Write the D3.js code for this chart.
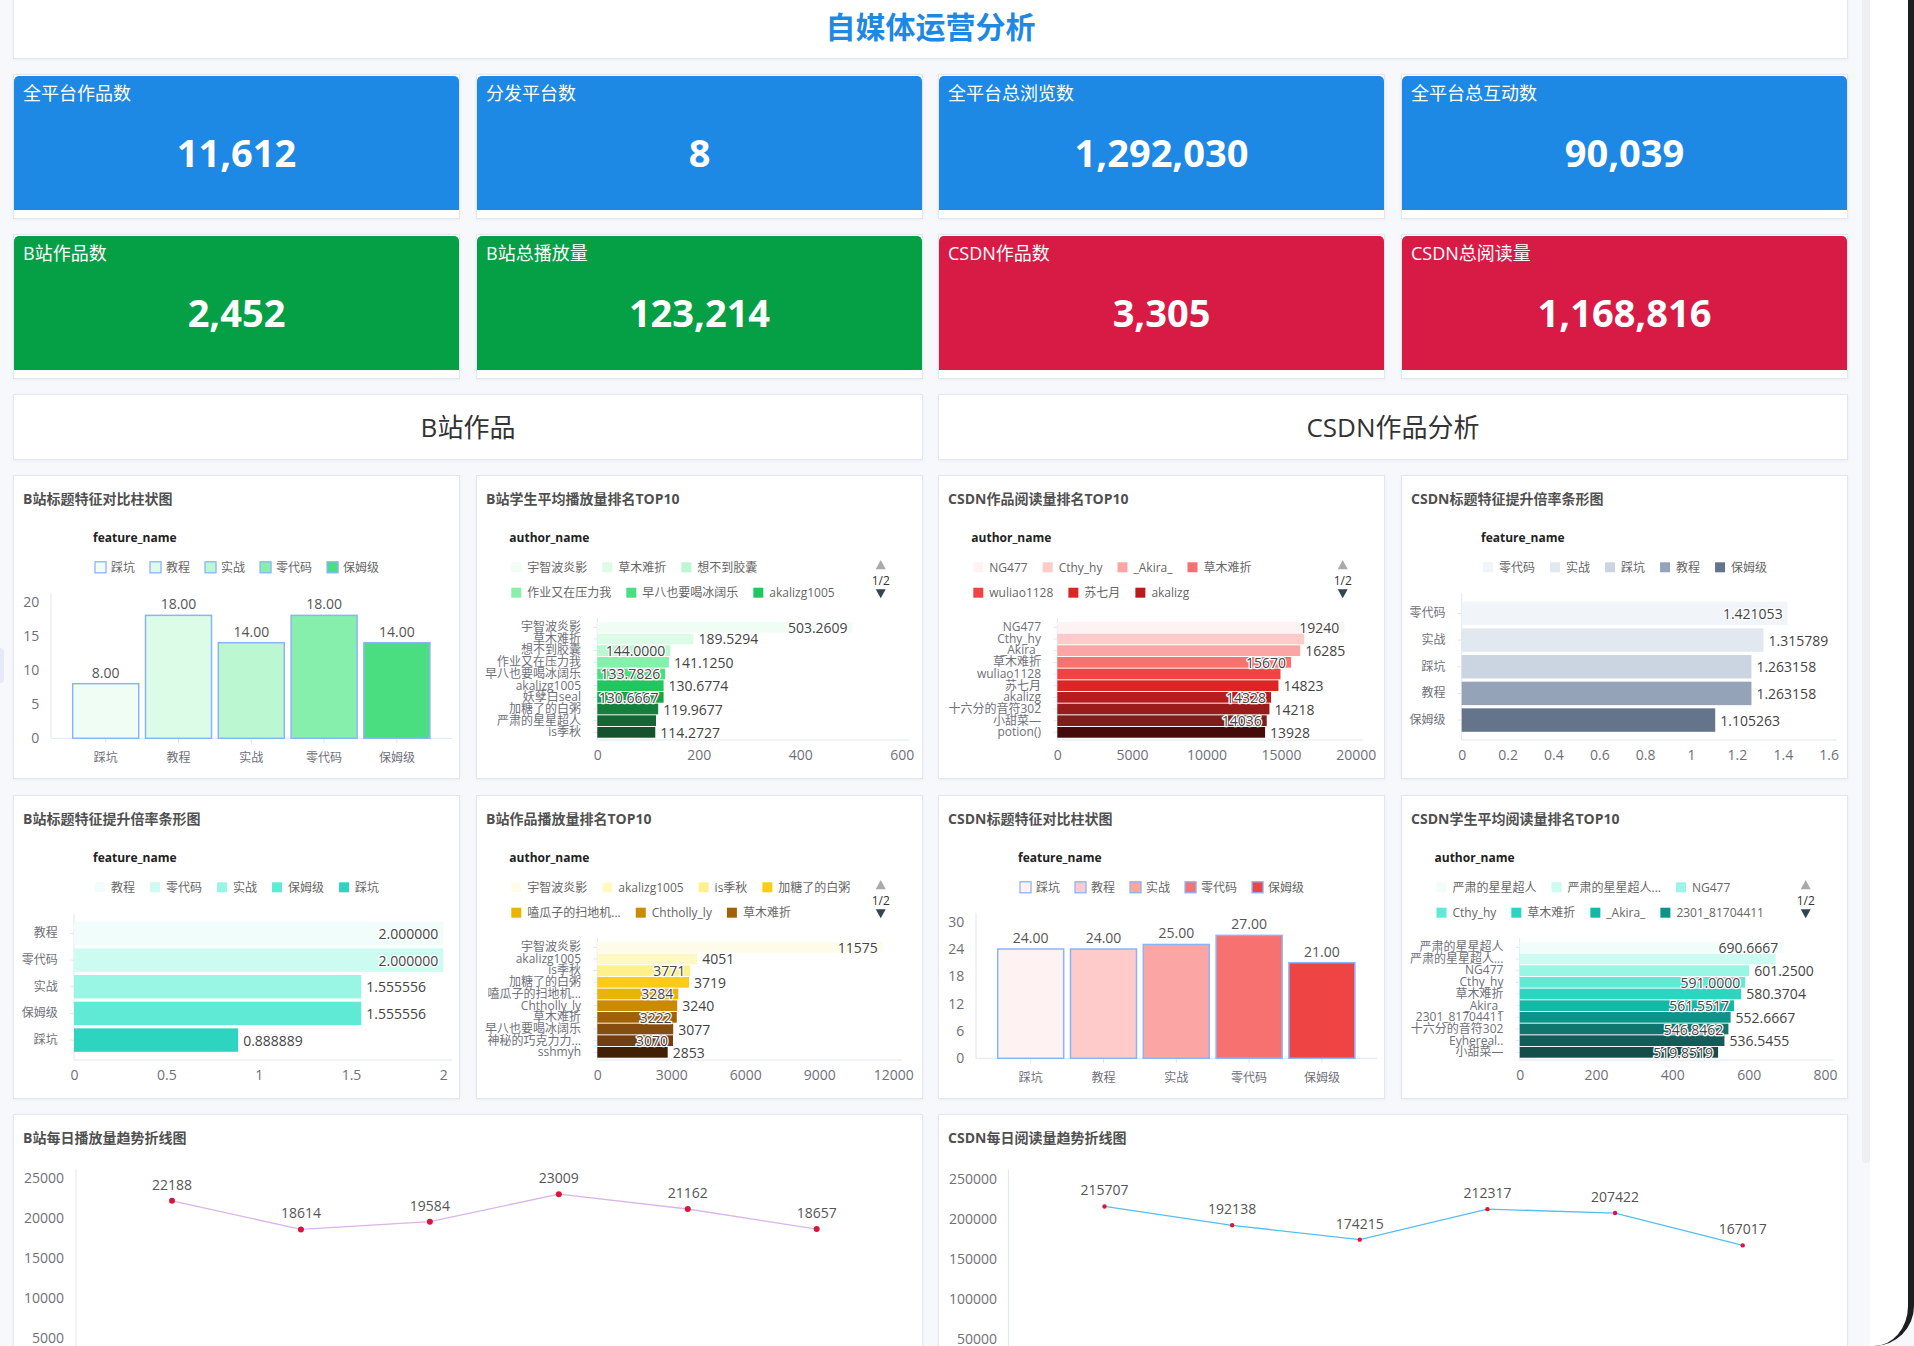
<!DOCTYPE html>
<html lang="zh">
<head>
<meta charset="utf-8">
<title>自媒体运营分析</title>
<script src="https://cdn.jsdelivr.net/npm/d3@7/dist/d3.min.js"></script>
<style>
  html, body { margin: 0; padding: 0; }
  body {
    width: 1914px; height: 1346px; overflow: hidden; position: relative;
    background: #f7f8fc;
    font-family: "Open Sans", "Noto Sans CJK SC", sans-serif;
  }
  .card { position: absolute; box-sizing: border-box; background: #fff;
          border: 1px solid #e4e6ef; box-shadow: 0 1px 3px rgba(30,40,90,0.05); }
  .main-title { position: absolute; left: 0; right: 0; top: 18px; text-align: center;
                font-size: 30px; font-weight: bold; color: #1e88e5; line-height: 36px; }
  .kpi { position: absolute; left: 0; top: 1px; width: 445px; height: 134px;
         border-radius: 5px 5px 0 0; color: #fff; }
  .kpi-name { position: absolute; left: 9px; top: 6px; font-size: 18px; line-height: 22px; }
  .kpi-value { position: absolute; left: 0; right: 0; top: 52px; text-align: center;
               font-size: 38px; font-weight: bold; line-height: 48px; }
  .section { text-align: center; font-size: 26px; color: #333; line-height: 64px; }
  svg text { font-family: "Open Sans", "Noto Sans CJK SC", sans-serif; }
  .ctitle { font-size: 14px; font-weight: bold; fill: #505050; dominant-baseline: central; }
  .ltitle { font-size: 12px; font-weight: bold; fill: #222; dominant-baseline: central; }
  .ltext { font-size: 12px; fill: #666; dominant-baseline: central; }
  .vlabel { font-size: 14px; fill: #444; stroke: #fff; stroke-width: 2.5px; paint-order: stroke;
            stroke-linejoin: round; dominant-baseline: central; }
  .sidetab { position: absolute; left: 0; top: 648px; width: 4px; height: 35px;
             background: #e6e9fa; border-radius: 0 4px 4px 0; }
  .thumb { position: absolute; left: 1862px; top: 0; width: 8px; height: 1163px;
           background: #efeff3; border-radius: 0 0 4px 4px; }
  .bezel { position: absolute; left: 1870px; top: -40px; width: 44px; height: 1386px;
           box-sizing: border-box; background: #fff; border-right: 6px solid #1d1d1f;
           border-bottom-right-radius: 40px; }
</style>
</head>
<body>
<script>
// KPI 卡片
var kpiNames = ['全平台作品数', '分发平台数', '全平台总浏览数', '全平台总互动数',
                'B站作品数', 'B站总播放量', 'CSDN作品数', 'CSDN总阅读量'];
var kpiValues = [11612, 8, 1292030, 90039, 2452, 123214, 3305, 1168816];

// B站标题特征对比柱状图
var bzFeatures = ['踩坑', '教程', '实战', '零代码', '保姆级'];
var bzFeatureCounts = [8, 18, 14, 18, 14];

// B站学生平均播放量排名TOP10
var bzStudents = ['宇智波炎影', '草木难折', '想不到胶囊', '作业又在压力我', '早八也要喝冰阔乐',
                  'akalizg1005', '妖孽白seal', '加糖了的白粥', '严肃的星星超人', 'is季秋'];
var bzStudentAvg = [503.2609, 189.5294, 144.0000, 141.1250, 133.7826,
                    130.6774, 130.6667, 119.9677, 115.7, 114.2727];

// CSDN作品阅读量排名TOP10
var csdnWorks = ['NG477', 'Cthy_hy', '_Akira_', '草木难折', 'wuliao1128',
                 '苏七月', 'akalizg', '十六分的音符302', '小甜菜—', 'potion()'];
var csdnWorkReads = [19240, 16550, 16285, 15670, 14960, 14823, 14328, 14218, 14036, 13928];

// CSDN标题特征提升倍率条形图
var csdnLiftFeatures = ['零代码', '实战', '踩坑', '教程', '保姆级'];
var csdnLift = [1.421053, 1.315789, 1.263158, 1.263158, 1.105263];

// B站标题特征提升倍率条形图
var bzLiftFeatures = ['教程', '零代码', '实战', '保姆级', '踩坑'];
var bzLift = [2.000000, 2.000000, 1.555556, 1.555556, 0.888889];

// B站作品播放量排名TOP10
var bzWorks = ['宇智波炎影', 'akalizg1005', 'is季秋', '加糖了的白粥', '嗑瓜子的扫地机...',
               'Chtholly_ly', '草木难折', '早八也要喝冰阔乐', '神秘的巧克力力...', 'sshmyh'];
var bzWorkPlays = [11575, 4051, 3771, 3719, 3284, 3240, 3222, 3077, 3070, 2853];

// CSDN标题特征对比柱状图
var csdnFeatures = ['踩坑', '教程', '实战', '零代码', '保姆级'];
var csdnFeatureCounts = [24, 24, 25, 27, 21];

// CSDN学生平均阅读量排名TOP10
var csdnStudents = ['严肃的星星超人', '严肃的星星超人...', 'NG477', 'Cthy_hy', '草木难折',
                    '_Akira_', '2301_81704411', '十六分的音符302', 'Eyhereal..', '小甜菜—'];
var csdnStudentAvg = [690.6667, 670.8, 601.2500, 591.0000, 580.3704,
                      561.5517, 552.6667, 546.8462, 536.5455, 519.8519];

// 每日趋势
var bzDaily = [22188, 18614, 19584, 23009, 21162, 18657];
var csdnDaily = [215707, 192138, 174215, 212317, 207422, 167017];

// where the value labels sit (in / out / none), as in the screenshot
var bzStudentLabelPos = ['in', 'out', 'in', 'out', 'in', 'out', 'in', 'out', 'none', 'out'];
var csdnWorkLabelPos = ['in', 'none', 'out', 'in', 'none', 'out', 'in', 'out', 'in', 'out'];
var bzWorkLabelPos = ['in', 'out', 'in', 'out', 'in', 'out', 'in', 'out', 'in', 'out'];
var csdnStudentLabelPos = ['in', 'none', 'out', 'in', 'out', 'in', 'out', 'in', 'out', 'in'];

// palettes
var kpiColors = ['#1e88e5', '#1e88e5', '#1e88e5', '#1e88e5', '#05a045', '#05a045', '#d81b45', '#d81b45'];
var greens = ['#f0fdf4', '#dcfce7', '#bbf7d0', '#86efac', '#4ade80', '#22c55e', '#16a34a', '#15803d', '#166534', '#14532d'];
var reds = ['#fef2f2', '#fecaca', '#fca5a5', '#f87171', '#ef4444', '#dc2626', '#b91c1c', '#991b1b', '#7f1d1d', '#450a0a'];
var teals = ['#f0fdfa', '#ccfbf1', '#99f6e4', '#5eead4', '#2dd4bf', '#14b8a6', '#0d9488', '#0f766e', '#115e59', '#134e4a'];
var slates = ['#f1f5f9', '#e2e8f0', '#cbd5e1', '#94a3b8', '#64748b'];
var yellows = ['#fefce8', '#fef9c3', '#fef08a', '#facc15', '#eab308', '#ca8a04', '#a16207', '#854d0e', '#713f12', '#422006'];

var FONT = '"Open Sans", "Noto Sans CJK SC", sans-serif';
var GRAY = '#6e7079', AXIS = '#e0e6f1';
var body = d3.select('body');

function card(x, y, w, h) {
  return body.append('div').attr('class', 'card')
    .style('left', x + 'px').style('top', y + 'px')
    .style('width', w + 'px').style('height', h + 'px');
}

function chartCard(x, y, w, h, title) {
  var svg = card(x, y, w, h).append('svg')
    .attr('width', w).attr('height', h)
    .style('position', 'absolute').style('left', '-1px').style('top', '-1px');
  svg.append('text').attr('class', 'ctitle').attr('x', 10).attr('y', 23).text(title);
  return svg;
}

function axisLine(svg, x1, y1, x2, y2) {
  svg.append('line').attr('x1', x1).attr('y1', y1).attr('x2', x2).attr('y2', y2)
    .attr('stroke', AXIS).attr('stroke-width', 1);
}

function styleAxis(g, size) {
  g.attr('font-family', FONT);
  g.select('.domain').remove();
  g.selectAll('line').attr('stroke', AXIS);
  g.selectAll('text').attr('fill', GRAY).attr('font-size', size);
}

function drawLegend(svg, title, names, colors, o) {
  var g = svg.append('g');
  var x = 0, row = 0, items = [];
  for (var i = 0; i < names.length; i++) {
    var t = g.append('text').attr('class', 'ltext').text(names[i]);
    var w = 16 + t.node().getComputedTextLength();
    if (o.paged && x > 0 && o.left + x + w > o.limit) { row++; x = 0; }
    if (row > 1) { t.remove(); break; }
    items.push({ t: t, x: x, row: row, color: colors[i] });
    x += w + 15;
  }
  var left = o.paged ? o.left : Math.round(224 - (x - 15) / 2);
  var s = o.bordered ? 11 : 10;
  items.forEach(function (d) {
    var cy = 92.3 + d.row * 25.4;
    g.append('rect').attr('x', left + d.x).attr('y', cy - s / 2)
      .attr('width', s).attr('height', s).attr('fill', d.color)
      .attr('stroke', o.bordered ? '#8ab4f8' : 'none').attr('stroke-width', 1.3);
    d.t.attr('x', left + d.x + 16).attr('y', cy);
  });
  svg.append('text').attr('class', 'ltitle').attr('x', left - 2).attr('y', 62.7).text(title);
  if (o.paged) {
    var p = svg.append('g').attr('transform', 'translate(404.7,0)');
    p.append('path').attr('d', 'M0,85 L5,94.3 L-5,94.3 Z').attr('fill', '#aaa');
    p.append('text').attr('y', 105).attr('text-anchor', 'middle').attr('dominant-baseline', 'central')
      .attr('font-size', 12).attr('fill', '#333').text('1/2');
    p.append('path').attr('d', 'M-5,114.3 L5,114.3 L0,123.3 Z').attr('fill', '#2f4554');
  }
}

function columnChart(svg, cats, vals, colors, max, step) {
  var y = d3.scaleLinear().domain([0, max]).range([263.3, 126.7]);
  var x = d3.scaleBand().domain(cats).range([59.7, 416.9]).paddingInner(0.0934);
  axisLine(svg, 38, 118, 38, 263.3);
  axisLine(svg, 38, 263.3, 439, 263.3);
  svg.append('g').attr('transform', 'translate(38,0)')
    .call(d3.axisLeft(y).tickValues(d3.range(0, max + 1, step)).tickSize(0).tickPadding(11.7))
    .call(styleAxis, 14);
  svg.append('g').attr('transform', 'translate(0,263.3)')
    .call(d3.axisBottom(x).tickSize(5).tickPadding(9.8))
    .call(styleAxis, 12);
  svg.append('g').selectAll('rect').data(vals).enter().append('rect')
    .attr('x', function (d, i) { return x(cats[i]); })
    .attr('y', function (d) { return y(d); })
    .attr('width', x.bandwidth())
    .attr('height', function (d) { return y(0) - y(d); })
    .attr('fill', function (d, i) { return colors[i]; })
    .attr('stroke', '#8ab4f8').attr('stroke-width', 1.5);
  svg.append('g').selectAll('text').data(vals).enter().append('text')
    .attr('x', function (d, i) { return x(cats[i]) + x.bandwidth() / 2; })
    .attr('y', function (d) { return y(d) - 11.6; })
    .attr('text-anchor', 'middle').attr('dominant-baseline', 'central')
    .attr('font-size', 14).attr('fill', '#555')
    .text(d3.format('.2f'));
}

function barChart(svg, cats, vals, colors, o) {
  var x = d3.scaleLinear().domain([0, o.max]).range([o.axisX, o.maxPos]);
  var y = d3.scaleBand().domain(cats).range(o.band).paddingInner(o.pad);
  axisLine(svg, o.axisX, o.top, o.axisX, 265);
  axisLine(svg, o.axisX, 265, o.axisEnd, 265);
  svg.append('g').attr('transform', 'translate(' + o.axisX + ',0)')
    .call(d3.axisLeft(y).tickSize(4).tickPadding(12.3))
    .call(styleAxis, 12);
  svg.append('g').attr('transform', 'translate(0,265)')
    .call(d3.axisBottom(x).tickValues(o.ticks).tickSize(0).tickPadding(10.4).tickFormat(d3.format('~g')))
    .call(styleAxis, 14);
  svg.append('g').selectAll('rect').data(vals).enter().append('rect')
    .attr('x', o.axisX)
    .attr('y', function (d, i) { return y(cats[i]); })
    .attr('width', function (d) { return x(d) - o.axisX; })
    .attr('height', y.bandwidth())
    .attr('fill', function (d, i) { return colors[i]; });
  var fmt = d3.format(o.fmt);
  vals.forEach(function (v, i) {
    var mode = o.pos ? o.pos[i] : 'auto';
    if (mode === 'none') return;
    var t = svg.append('text').attr('class', 'vlabel')
      .attr('y', y(cats[i]) + y.bandwidth() / 2).text(fmt(v));
    if (mode === 'auto') {
      mode = x(v) + 5 + t.node().getComputedTextLength() > o.axisEnd ? 'in' : 'out';
    }
    if (mode === 'in') t.attr('x', x(v) - 5).attr('text-anchor', 'end');
    else t.attr('x', x(v) + 5).attr('text-anchor', 'start');
  });
}

function lineChart(svg, vals, o) {
  var y = d3.scaleLinear().domain([0, o.max]).range([o.zeroY, o.maxY]);
  var x = d3.scalePoint().domain(d3.range(vals.length)).range(o.xr);
  axisLine(svg, o.axisX, 55.3, o.axisX, o.zeroY);
  svg.append('g').attr('transform', 'translate(' + o.axisX + ',0)')
    .call(d3.axisLeft(y).tickValues(d3.range(0, o.max + 1, o.step)).tickSize(0)
      .tickPadding(o.gap).tickFormat(d3.format('d')))
    .call(styleAxis, 14);
  svg.append('path').datum(vals)
    .attr('d', d3.line().x(function (d, i) { return x(i); }).y(function (d) { return y(d); }))
    .attr('fill', 'none').attr('stroke', o.color).attr('stroke-width', 1.3);
  svg.append('g').selectAll('circle').data(vals).enter().append('circle')
    .attr('cx', function (d, i) { return x(i); })
    .attr('cy', function (d) { return y(d); })
    .attr('r', o.r).attr('fill', '#dc143c');
  svg.append('g').selectAll('text').data(vals).enter().append('text')
    .attr('x', function (d, i) { return x(i); })
    .attr('y', function (d) { return y(d) - 16.5; })
    .attr('text-anchor', 'middle').attr('dominant-baseline', 'central')
    .attr('font-size', 14).attr('fill', '#555')
    .text(function (d) { return d; });
}

// ---- page ----
card(13, -10, 1835, 69).append('div').attr('class', 'main-title').text('自媒体运营分析');

var colX = [13, 476, 938, 1401];
kpiNames.forEach(function (name, i) {
  var b = card(colX[i % 4], i < 4 ? 74 : 234, 447, 145)
    .append('div').attr('class', 'kpi').style('background', kpiColors[i]);
  b.append('div').attr('class', 'kpi-name').text(name);
  b.append('div').attr('class', 'kpi-value').text(d3.format(',')(kpiValues[i]));
});

card(13, 394, 910, 66).append('div').attr('class', 'section').text('B站作品');
card(938, 394, 910, 66).append('div').attr('class', 'section').text('CSDN作品分析');

var rankBand = { band: [146.95, 262.7], pad: 0.083, top: 143.3 };
var liftBand = { band: [126.7, 256.8], pad: 0.12, top: 118.3 };

var s = chartCard(13, 475, 447, 304, 'B站标题特征对比柱状图');
drawLegend(s, 'feature_name', bzFeatures, greens, { bordered: true });
columnChart(s, bzFeatures, bzFeatureCounts, greens, 20, 5);

s = chartCard(476, 475, 447, 304, 'B站学生平均播放量排名TOP10');
drawLegend(s, 'author_name', bzStudents, greens, { paged: true, left: 35.3, limit: 370 });
barChart(s, bzStudents, bzStudentAvg, greens, Object.assign({
  axisX: 121.3, maxPos: 425.7, axisEnd: 433.3, max: 600, ticks: d3.range(0, 601, 200),
  fmt: '.4f', pos: bzStudentLabelPos }, rankBand));

s = chartCard(938, 475, 447, 304, 'CSDN作品阅读量排名TOP10');
drawLegend(s, 'author_name', csdnWorks, reds, { paged: true, left: 35.3, limit: 370 });
barChart(s, csdnWorks, csdnWorkReads, reds, Object.assign({
  axisX: 119.3, maxPos: 417.7, axisEnd: 425, max: 20000, ticks: d3.range(0, 20001, 5000),
  fmt: 'd', pos: csdnWorkLabelPos }, rankBand));

s = chartCard(1401, 475, 447, 304, 'CSDN标题特征提升倍率条形图');
drawLegend(s, 'feature_name', csdnLiftFeatures, slates, {});
barChart(s, csdnLiftFeatures, csdnLift, slates, Object.assign({
  axisX: 60.7, maxPos: 427.7, axisEnd: 435.7, max: 1.6, ticks: d3.ticks(0, 1.6, 8),
  fmt: '.6f' }, liftBand));

s = chartCard(13, 795, 447, 304, 'B站标题特征提升倍率条形图');
drawLegend(s, 'feature_name', bzLiftFeatures, teals, {});
barChart(s, bzLiftFeatures, bzLift, teals, Object.assign({
  axisX: 61, maxPos: 430.3, axisEnd: 438.7, max: 2, ticks: d3.ticks(0, 2, 4),
  fmt: '.6f' }, liftBand));

s = chartCard(476, 795, 447, 304, 'B站作品播放量排名TOP10');
drawLegend(s, 'author_name', bzWorks, yellows, { paged: true, left: 35.3, limit: 378 });
barChart(s, bzWorks, bzWorkPlays, yellows, Object.assign({
  axisX: 121.3, maxPos: 417.3, axisEnd: 425.7, max: 12000, ticks: d3.range(0, 12001, 3000),
  fmt: 'd', pos: bzWorkLabelPos }, rankBand));

s = chartCard(938, 795, 447, 304, 'CSDN标题特征对比柱状图');
drawLegend(s, 'feature_name', csdnFeatures, reds, { bordered: true });
columnChart(s, csdnFeatures, csdnFeatureCounts, reds, 30, 6);

s = chartCard(1401, 795, 447, 304, 'CSDN学生平均阅读量排名TOP10');
drawLegend(s, 'author_name', csdnStudents, teals, { paged: true, left: 35.5, limit: 370 });
barChart(s, csdnStudents, csdnStudentAvg, teals, Object.assign({
  axisX: 118.7, maxPos: 424, axisEnd: 432.3, max: 800, ticks: d3.range(0, 801, 200),
  fmt: '.4f', pos: csdnStudentLabelPos }, rankBand));

s = chartCard(13, 1114, 910, 300, 'B站每日播放量趋势折线图');
lineChart(s, bzDaily, { max: 25000, step: 5000, zeroY: 264.3, maxY: 64.3, axisX: 63, gap: 12,
  xr: [159, 803.7], color: '#d9b4ea', r: 3 });

s = chartCard(938, 1114, 910, 300, 'CSDN每日阅读量趋势折线图');
lineChart(s, csdnDaily, { max: 250000, step: 50000, zeroY: 265, maxY: 65, axisX: 70.4, gap: 11.4,
  xr: [166.5, 804.7], color: '#55bef0', r: 2.2 });

body.append('div').attr('class', 'sidetab');
body.append('div').attr('class', 'thumb');
body.append('div').attr('class', 'bezel');
</script>
</body>
</html>
